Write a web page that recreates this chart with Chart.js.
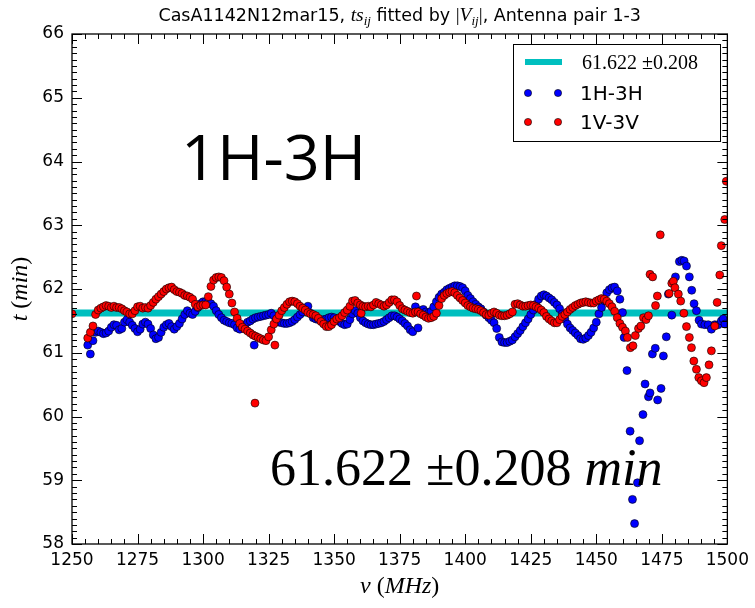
<!DOCTYPE html>
<html>
<head>
<meta charset="utf-8">
<script src="https://cdn.jsdelivr.net/npm/chart.js@4.4.0/dist/chart.umd.min.js"></script>
<style>
  html, body { margin: 0; padding: 0; background: #fff; }
  canvas { display: block; }
</style>
</head>
<body>
<canvas id="delayChart" width="755" height="608"></canvas>
<script>
// Fitted delay (minutes) and its error
const fitValue = 61.622;
const fitError = 0.208;

// Axis ranges and tick steps
const freqRange = [1250, 1500];
const delayRange = [58, 66];
const freqMajor = 25, freqMinor = 5;
const delayMajor = 1, delayMinor = 0.1;

// Per-channel delay, 1H-3H  [frequency MHz, delay min]
const pairH = [
  [1256,61.12],[1257,60.98],[1258,61.19],[1259,61.32],[1260,61.34],[1261,61.32],[1262,61.30],[1263,61.31],[1264,61.34],[1265,61.40],
  [1266,61.44],[1267,61.43],[1268,61.36],[1269,61.38],[1270,61.48],[1271,61.52],[1272,61.48],[1273,61.43],[1274,61.38],[1275,61.33],
  [1276,61.37],[1277,61.45],[1278,61.48],[1279,61.45],[1280,61.38],[1281,61.28],[1282,61.22],[1283,61.24],[1284,61.32],[1285,61.40],
  [1286,61.44],[1287,61.46],[1288,61.41],[1289,61.37],[1290,61.41],[1291,61.46],[1292,61.53],[1293,61.60],[1294,61.66],[1295,61.62],
  [1296,61.60],[1297,61.65],[1298,61.71],[1299,61.77],[1300,61.80],[1301,61.80],[1302,61.79],[1303,61.77],[1304,61.73],[1305,61.66],
  [1306,61.60],[1307,61.55],[1308,61.51],[1309,61.49],[1310,61.47],[1311,61.46],[1312,61.44],[1313,61.39],[1314,61.37],[1315,61.40],
  [1316,61.44],[1317,61.48],[1318,61.50],[1319,61.53],[1319.5,61.12],[1320,61.55],[1321,61.56],[1322,61.57],[1323,61.58],[1324,61.59],
  [1325,61.60],[1326,61.62],[1327,61.58],[1328,61.52],[1329,61.48],[1330,61.47],[1331,61.46],[1332,61.46],[1333,61.47],[1334,61.49],
  [1335,61.52],[1336,61.56],[1337,61.60],[1338,61.64],[1339,61.69],[1340,61.73],[1341,61.62],[1342,61.55],[1343,61.53],[1344,61.52],
  [1345,61.51],[1346,61.52],[1347,61.53],[1348,61.55],[1349,61.56],[1350,61.55],[1351,61.52],[1352,61.49],[1353,61.46],[1354,61.44],
  [1355,61.45],[1356,61.52],[1357,61.61],[1358,61.66],[1359,61.62],[1360,61.55],[1361,61.50],[1362,61.47],[1363,61.45],[1364,61.44],
  [1365,61.44],[1366,61.45],[1367,61.46],[1368,61.47],[1369,61.49],[1370,61.52],[1371,61.55],[1372,61.58],[1373,61.58],[1374,61.56],
  [1375,61.53],[1376,61.50],[1377,61.46],[1378,61.42],[1379,61.36],[1380,61.33],[1381,61.72],[1382,61.39],[1383,61.66],[1384,61.68],
  [1385,61.64],[1386,61.62],[1387,61.65],[1388,61.72],[1389,61.80],[1390,61.87],[1391,61.92],[1392,61.95],[1393,61.99],[1394,62.01],
  [1395,62.03],[1396,62.05],[1397,62.05],[1398,62.04],[1399,62.02],[1400,61.97],[1401,61.90],[1402,61.85],[1403,61.80],[1404,61.76],
  [1405,61.72],[1406,61.69],[1407,61.64],[1408,61.59],[1409,61.55],[1410,61.51],[1411,61.47],[1412,61.38],[1413,61.24],[1414,61.17],
  [1415,61.16],[1416,61.16],[1417,61.18],[1418,61.20],[1419,61.25],[1420,61.30],[1421,61.35],[1422,61.41],[1423,61.47],[1424,61.53],
  [1425,61.60],[1426,61.67],[1427,61.76],[1428,61.84],[1429,61.89],[1430,61.91],[1431,61.89],[1432,61.86],[1433,61.83],[1434,61.79],
  [1435,61.75],[1436,61.69],[1437,61.61],[1438,61.53],[1439,61.45],[1440,61.39],[1441,61.35],[1442,61.31],[1443,61.27],[1444,61.22],
  [1445,61.21],[1446,61.23],[1447,61.27],[1448,61.32],[1449,61.39],[1450,61.48],[1451,61.61],[1452,61.71],[1453,61.82],[1454,61.94],
  [1455,61.99],[1456,62.02],[1457,62.03],[1458,61.97],[1459,61.84],[1460,61.63],
  [1460.6,61.24],[1461.7,60.72],[1462.9,59.77],[1463.8,58.70],[1464.6,58.32],[1465.7,58.96],[1466.5,59.62],[1467.8,60.03],
  [1468.6,60.51],[1469.9,60.31],[1470.5,60.37],[1471.4,60.98],[1472.5,61.07],[1473.4,60.26],[1474.7,60.44],[1475.6,60.95],
  [1476.7,61.25],[1477.5,61.92],[1478.8,61.59],[1480.2,62.19],[1481.7,62.43],[1482.6,62.45],[1483.5,62.44],[1484.4,62.36],
  [1485.5,62.19],[1486.4,61.98],[1487.3,61.77],[1488.2,61.66],[1489.2,61.51],[1490.1,61.45],[1491.4,61.44],[1492.7,61.44],
  [1493.9,61.37],[1495.2,61.44],[1496.5,61.44],[1497.7,61.50],[1498.4,61.53],[1499.1,61.45]
];

// Per-channel delay, 1V-3V  [frequency MHz, delay min]
const pairV = [
  [1250,61.61],
  [1256,61.23],[1257,61.32],[1258,61.42],[1259,61.60],[1260,61.67],[1261,61.70],[1262,61.72],[1263,61.74],[1264,61.73],[1265,61.71],
  [1266,61.73],[1267,61.71],[1268,61.71],[1269,61.69],[1270,61.66],[1271,61.64],[1272,61.61],[1273,61.61],[1274,61.66],[1275,61.72],
  [1276,61.73],[1277,61.70],[1278,61.71],[1279,61.70],[1280,61.74],[1281,61.79],[1282,61.84],[1283,61.88],[1284,61.92],[1285,61.96],
  [1286,62.00],[1287,62.02],[1288,62.03],[1289,61.99],[1290,61.96],[1291,61.95],[1292,61.93],[1293,61.90],[1294,61.89],[1295,61.87],
  [1296,61.84],[1297,61.76],[1298,61.72],[1299,61.74],[1300,61.75],[1301,61.75],[1302,61.88],[1303,62.04],[1304,62.14],[1305,62.18],
  [1306,62.19],[1307,62.18],[1308,62.13],[1309,62.03],[1310,61.92],[1311,61.78],[1312,61.64],[1313,61.54],[1314,61.46],[1315,61.40],
  [1316,61.37],[1317,61.34],[1318,61.31],[1319,61.28],[1319.8,60.21],[1320,61.26],[1321,61.24],[1322,61.22],[1323,61.20],[1324,61.19],
  [1325,61.25],[1326,61.36],[1327,61.45],[1327.4,61.12],[1328,61.53],[1329,61.59],[1330,61.66],[1331,61.71],[1332,61.76],[1333,61.80],
  [1334,61.81],[1335,61.80],[1336,61.77],[1337,61.73],[1338,61.70],[1339,61.67],[1340,61.63],[1341,61.61],[1342,61.60],[1343,61.58],
  [1344,61.54],[1345,61.49],[1346,61.45],[1347,61.41],[1348,61.41],[1349,61.44],[1350,61.49],[1351,61.53],[1352,61.55],[1353,61.58],
  [1354,61.63],[1355,61.67],[1356,61.73],[1357,61.81],[1358,61.82],[1359,61.78],[1360,61.75],[1360.3,61.62],[1361,61.73],[1362,61.72],
  [1363,61.73],[1364,61.72],[1365,61.75],[1366,61.79],[1367,61.77],[1368,61.75],[1369,61.73],[1370,61.75],[1371,61.79],[1372,61.83],
  [1373,61.83],[1374,61.80],[1375,61.74],[1376,61.69],[1377,61.67],[1378,61.65],[1379,61.63],[1380,61.62],[1381,61.64],[1381.4,61.89],
  [1382,61.64],[1383,61.61],[1384,61.59],[1385,61.56],[1386,61.54],[1387,61.55],[1388,61.57],[1389,61.62],[1390,61.74],[1391,61.85],
  [1392,61.90],[1393,61.93],[1394,61.95],[1395,61.96],[1396,61.94],[1397,61.90],[1398,61.86],[1399,61.82],[1400,61.78],[1401,61.74],
  [1402,61.72],[1403,61.70],[1404,61.69],[1405,61.68],[1406,61.66],[1407,61.63],[1408,61.60],[1409,61.59],[1410,61.62],[1411,61.64],
  [1412,61.62],[1413,61.59],[1414,61.58],[1415,61.58],[1416,61.59],[1417,61.61],[1418,61.64],[1419,61.76],[1420,61.77],[1421,61.75],
  [1422,61.73],[1423,61.73],[1424,61.74],[1425,61.75],[1426,61.74],[1427,61.72],[1428,61.70],[1429,61.67],[1430,61.63],[1431,61.57],
  [1432,61.53],[1433,61.50],[1434,61.47],[1435,61.47],[1436,61.52],[1437,61.57],[1438,61.60],[1439,61.64],[1440,61.68],[1441,61.71],
  [1442,61.74],[1443,61.76],[1444,61.78],[1445,61.79],[1446,61.80],[1447,61.79],[1448,61.78],[1449,61.78],[1450,61.81],[1451,61.83],
  [1452,61.85],[1453,61.84],[1454,61.81],[1455,61.77],[1456,61.72],[1457,61.65],[1458,61.55],[1459,61.46],
  [1460.0,61.40],[1461.1,61.34],[1461.9,61.24],[1463.0,61.08],[1464.0,61.11],[1464.9,61.27],[1466.1,61.38],[1467.0,61.42],
  [1468.0,61.55],[1469.0,61.52],[1469.9,61.58],[1470.5,62.23],[1471.5,62.19],[1472.6,61.74],[1473.3,61.89],[1474.4,62.85],
  [1477.8,61.93],[1478.8,62.09],[1479.4,62.12],[1480.0,62.02],[1481.3,61.92],[1482.2,61.81],[1483.4,61.62],[1484.4,61.41],
  [1485.5,61.24],[1486.3,61.08],[1487.2,60.87],[1488.2,60.74],[1489.1,60.61],[1490.1,60.56],[1491.1,60.53],[1492.0,60.61],
  [1493.0,60.81],[1493.9,61.03],[1495.2,61.42],[1496.1,61.79],[1497.1,62.22],[1497.7,62.68],[1499.0,63.09],[1499.6,63.69]
];

const seriesNames = ['1H-3H', '1V-3V'];
const fitLabel = fitValue.toFixed(3) + ' \u00b1' + fitError.toFixed(3);

const CYAN = '#00bfbf';
const BLUE = '#0000ff';
const RED = '#ff0000';

const toPoints = rows => rows.map(([f, t]) => ({ x: f, y: t }));

// Write a row of text pieces with different fonts one after another
function drawRuns(ctx, runs, x, y, align) {
  let total = 0;
  runs.forEach(r => {
    ctx.font = r.font;
    r.w = ctx.measureText(r.text).width;
    total += r.w;
  });
  let cx = align === 'center' ? x - total / 2 : x;
  runs.forEach(r => {
    ctx.font = r.font;
    ctx.fillText(r.text, cx, y + (r.dy || 0));
    cx += r.w;
  });
}

function drawDot(ctx, x, y, color) {
  ctx.beginPath();
  ctx.arc(x, y, 3.6, 0, Math.PI * 2);
  ctx.fillStyle = color;
  ctx.fill();
  ctx.lineWidth = 0.6;
  ctx.strokeStyle = '#000';
  ctx.stroke();
}

// Frame, inward ticks on all sides, legend and annotations
const decorations = {
  id: 'decorations',
  afterDraw(chart) {
    const { ctx, chartArea: a, scales: { x, y } } = chart;
    ctx.save();

    ctx.strokeStyle = '#000';
    ctx.lineWidth = 1;
    ctx.beginPath();
    const nx = Math.round((freqRange[1] - freqRange[0]) / freqMinor);
    for (let i = 0; i <= nx; i++) {
      const v = freqRange[0] + i * freqMinor;
      const len = (i * freqMinor) % freqMajor === 0 ? 10 : 5;
      const px = Math.round(x.getPixelForValue(v)) + 0.5;
      ctx.moveTo(px, a.bottom); ctx.lineTo(px, a.bottom - len);
      ctx.moveTo(px, a.top); ctx.lineTo(px, a.top + len);
    }
    const ny = Math.round((delayRange[1] - delayRange[0]) / delayMinor);
    for (let i = 0; i <= ny; i++) {
      const v = delayRange[0] + i * delayMinor;
      const len = i % Math.round(delayMajor / delayMinor) === 0 ? 10 : 5;
      const py = Math.round(y.getPixelForValue(v)) + 0.5;
      ctx.moveTo(a.left, py); ctx.lineTo(a.left + len, py);
      ctx.moveTo(a.right, py); ctx.lineTo(a.right - len, py);
    }
    ctx.stroke();

    ctx.lineWidth = 1.3;
    ctx.strokeRect(a.left, a.top, a.right - a.left, a.bottom - a.top);

    // legend
    const lx = 513.5, ly = 44.5, lw = 207, lh = 97;
    ctx.fillStyle = '#fff';
    ctx.fillRect(lx, ly, lw, lh);
    ctx.lineWidth = 1;
    ctx.strokeStyle = '#000';
    ctx.strokeRect(lx, ly, lw, lh);

    ctx.strokeStyle = CYAN;
    ctx.lineWidth = 6;
    ctx.beginPath();
    ctx.moveTo(525, 62); ctx.lineTo(562, 62);
    ctx.stroke();
    drawDot(ctx, 528, 93, BLUE); drawDot(ctx, 558, 93, BLUE);
    drawDot(ctx, 528, 122, RED); drawDot(ctx, 558, 122, RED);

    ctx.fillStyle = '#000';
    ctx.textAlign = 'left';
    ctx.textBaseline = 'alphabetic';
    ctx.font = '20px "Liberation Serif"';
    ctx.fillText(fitLabel, 582, 69);
    ctx.font = '20px "DejaVu Sans"';
    ctx.fillText(seriesNames[0], 580, 100);
    ctx.fillText(seriesNames[1], 580, 129);

    // title
    const sans = '17.5px "DejaVu Sans"';
    const mi = 'italic 19.5px "Liberation Serif"';
    const rm = '19.5px "Liberation Serif"';
    const sub = 'italic 13px "Liberation Serif"';
    drawRuns(ctx, [
      { text: 'CasA1142N12mar15, ', font: sans },
      { text: 'ts', font: mi },
      { text: 'ij', font: sub, dy: 4 },
      { text: ' fitted by ', font: sans },
      { text: '|', font: rm },
      { text: 'V', font: mi },
      { text: 'ij', font: sub, dy: 4 },
      { text: '|', font: rm },
      { text: ', Antenna pair 1-3', font: sans }
    ], (a.left + a.right) / 2, 21, 'center');

    // axis titles
    const ti = 'italic 24px "Liberation Serif"';
    const tr = '24px "Liberation Serif"';
    drawRuns(ctx, [
      { text: '\u03bd', font: ti }, { text: ' (', font: tr },
      { text: 'MHz', font: ti }, { text: ')', font: tr }
    ], (a.left + a.right) / 2, 593, 'center');

    ctx.save();
    ctx.translate(27, (a.top + a.bottom) / 2);
    ctx.rotate(-Math.PI / 2);
    drawRuns(ctx, [
      { text: 't', font: ti }, { text: ' (', font: tr },
      { text: 'min', font: ti }, { text: ')', font: tr }
    ], 0, 0, 'center');
    ctx.restore();

    // annotations
    ctx.font = '63px "Open Sans"';
    ctx.fillText(seriesNames[0], 181, 180);
    drawRuns(ctx, [
      { text: fitLabel + ' ', font: '52px "Liberation Serif"' },
      { text: 'min', font: 'italic 52px "Liberation Serif"' }
    ], 270, 485, 'left');

    ctx.restore();
  }
};

new Chart(document.getElementById('delayChart'), {
  type: 'scatter',
  data: {
    datasets: [
      {
        type: 'line',
        label: fitLabel,
        data: [{ x: freqRange[0], y: fitValue }, { x: freqRange[1], y: fitValue }],
        borderColor: CYAN,
        borderWidth: 7,
        pointRadius: 0,
        order: 2
      },
      {
        label: seriesNames[0],
        data: toPoints(pairH),
        backgroundColor: BLUE,
        borderColor: '#000',
        borderWidth: 0.6,
        pointRadius: 4,
        clip: 0,
        order: 1
      },
      {
        label: seriesNames[1],
        data: toPoints(pairV),
        backgroundColor: RED,
        borderColor: '#000',
        borderWidth: 0.6,
        pointRadius: 4,
        clip: 0,
        order: 0
      }
    ]
  },
  options: {
    responsive: false,
    animation: false,
    devicePixelRatio: 1,
    layout: { padding: { left: 0, right: 24, top: 34, bottom: 0 } },
    plugins: { legend: { display: false }, tooltip: { enabled: false } },
    scales: {
      x: {
        type: 'linear',
        min: freqRange[0],
        max: freqRange[1],
        grid: { display: false, drawTicks: false },
        border: { display: false },
        ticks: {
          stepSize: freqMajor,
          autoSkip: false,
          maxRotation: 0,
          padding: 6,
          color: '#000',
          font: { family: 'DejaVu Sans', size: 17 },
          callback: v => String(v)
        },
        afterFit: s => { s.height = 64; }
      },
      y: {
        min: delayRange[0],
        max: delayRange[1],
        grid: { display: false, drawTicks: false },
        border: { display: false },
        ticks: {
          stepSize: delayMajor,
          padding: 8,
          color: '#000',
          font: { family: 'DejaVu Sans', size: 17 },
          callback: v => String(v)
        },
        afterFit: s => { s.width = 72; }
      }
    }
  },
  plugins: [decorations]
});
</script>
</body>
</html>
